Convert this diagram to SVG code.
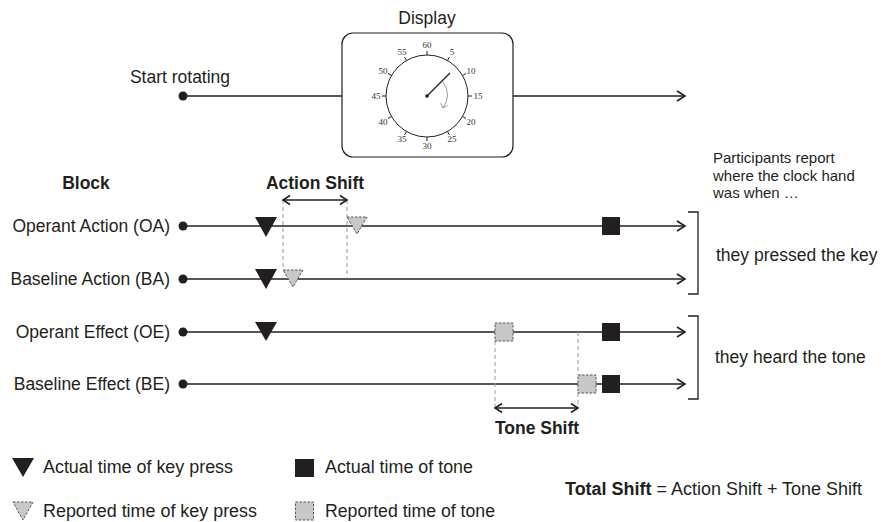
<svg xmlns="http://www.w3.org/2000/svg" width="888" height="522" viewBox="0 0 888 522">
<style>
text{font-family:"Liberation Sans",Arial,sans-serif;fill:#231f20}
.lbl{font-size:17.5px}
.b{font-weight:bold}
.num{font-family:"Liberation Serif","Times New Roman",serif;font-size:9px;text-anchor:middle;fill:#333}
.ln{stroke:#231f20;stroke-width:1.6;fill:none}
.ah{stroke:#231f20;stroke-width:1.6;fill:none;stroke-linejoin:miter}
.dash{stroke:#9a9a9a;stroke-width:1;stroke-dasharray:4 3;fill:none}
.act{fill:#231f20}
.rep{fill:#c8c8c8;stroke:#555;stroke-width:1;stroke-dasharray:2.5 1.5}
.leg{font-size:18px}
</style>
<rect width="888" height="522" fill="#fff"/>

<g id="display">
<text x="427" y="24" class="lbl" text-anchor="middle">Display</text>
<rect x="342" y="33" width="171" height="124" rx="11" fill="#fff" stroke="#231f20" stroke-width="1.2"/>
<circle cx="427" cy="96" r="41" fill="none" stroke="#231f20" stroke-width="1"/>
<g stroke="#231f20" stroke-width="1">
<line x1="427" y1="55" x2="427" y2="51"/>
<line x1="447.5" y1="60.5" x2="449.5" y2="57"/>
<line x1="462.5" y1="75.5" x2="466" y2="73.5"/>
<line x1="468" y1="96" x2="472" y2="96"/>
<line x1="462.5" y1="116.5" x2="466" y2="118.5"/>
<line x1="447.5" y1="131.5" x2="449.5" y2="135"/>
<line x1="427" y1="137" x2="427" y2="141"/>
<line x1="406.5" y1="131.5" x2="404.5" y2="135"/>
<line x1="391.5" y1="116.5" x2="388" y2="118.5"/>
<line x1="386" y1="96" x2="382" y2="96"/>
<line x1="391.5" y1="75.5" x2="388" y2="73.5"/>
<line x1="406.5" y1="60.5" x2="404.5" y2="57"/>
</g>
<text class="num" x="427" y="48">60</text>
<text class="num" x="452" y="55">5</text>
<text class="num" x="471" y="73.5">10</text>
<text class="num" x="478" y="99">15</text>
<text class="num" x="471" y="124.5">20</text>
<text class="num" x="452" y="142">25</text>
<text class="num" x="427" y="149">30</text>
<text class="num" x="402" y="142">35</text>
<text class="num" x="383" y="124.5">40</text>
<text class="num" x="376" y="99">45</text>
<text class="num" x="383" y="73.5">50</text>
<text class="num" x="402" y="55">55</text>
<line x1="427" y1="96" x2="450" y2="73" stroke="#231f20" stroke-width="1.2"/>
<circle cx="427" cy="96" r="1.8" fill="#231f20"/>
<path d="M443,82 Q452,95 443,108" fill="none" stroke="#999" stroke-width="1"/>
<path d="M440.5,103 L443,108 L447.5,105.5" fill="none" stroke="#999" stroke-width="1"/>
</g>

<g id="start">
<text x="180" y="83" class="lbl" text-anchor="middle">Start rotating</text>
<circle cx="183" cy="96" r="4.5" fill="#231f20"/>
</g>

<g id="labels">
<text x="86" y="189" class="lbl b" text-anchor="middle">Block</text>
<text x="170" y="232" class="lbl" text-anchor="end">Operant Action (OA)</text>
<text x="170" y="285" class="lbl" text-anchor="end">Baseline Action (BA)</text>
<text x="170" y="338" class="lbl" text-anchor="end">Operant Effect (OE)</text>
<text x="170" y="390" class="lbl" text-anchor="end">Baseline Effect (BE)</text>
<text x="713" y="163" font-size="15">Participants report</text>
<text x="713" y="181" font-size="15">where the clock hand</text>
<text x="713" y="198" font-size="15">was when …</text>
<text x="716" y="261" class="lbl">they pressed the key</text>
<text x="715" y="363" class="lbl">they heard the tone</text>
<text x="315" y="189" class="lbl b" text-anchor="middle">Action Shift</text>
<text x="537" y="434" class="lbl b" text-anchor="middle">Tone Shift</text>
</g>

<g id="connectors">
<line class="ln" x1="183" y1="96" x2="342" y2="96"/>
<line class="ln" x1="513" y1="96" x2="685" y2="96"/>
<path class="ah" d="M677,91 L685,96 L677,101"/>
<g id="row-oa"><circle cx="183" cy="226" r="4.5" fill="#231f20"/><line class="ln" x1="183" y1="226" x2="685" y2="226"/><path class="ah" d="M677,221 L685,226 L677,231"/></g>
<g id="row-ba"><circle cx="183" cy="279" r="4.5" fill="#231f20"/><line class="ln" x1="183" y1="279" x2="685" y2="279"/><path class="ah" d="M677,274 L685,279 L677,284"/></g>
<g id="row-oe"><circle cx="183" cy="332" r="4.5" fill="#231f20"/><line class="ln" x1="183" y1="332" x2="685" y2="332"/><path class="ah" d="M677,327 L685,332 L677,337"/></g>
<g id="row-be"><circle cx="183" cy="384" r="4.5" fill="#231f20"/><line class="ln" x1="183" y1="384" x2="685" y2="384"/><path class="ah" d="M677,379 L685,384 L677,389"/></g>
<path d="M688,212 H698 V294 H688" fill="none" stroke="#231f20" stroke-width="1.3"/>
<path d="M688,316 H698 V399 H688" fill="none" stroke="#231f20" stroke-width="1.3"/>
<line class="dash" x1="283" y1="200" x2="283" y2="270"/>
<line class="dash" x1="347" y1="200" x2="347" y2="279"/>
<line class="ln" x1="283" y1="200" x2="347" y2="200"/>
<path class="ah" d="M290,195.5 L283,200 L290,204.5 M340,195.5 L347,200 L340,204.5"/>
<line class="dash" x1="495" y1="341" x2="495" y2="408"/>
<line class="dash" x1="578" y1="332" x2="578" y2="375"/>
<line class="dash" x1="578" y1="393" x2="578" y2="408"/>
<line class="ln" x1="495" y1="408" x2="578" y2="408"/>
<path class="ah" d="M502,403.5 L495,408 L502,412.5 M571,403.5 L578,408 L571,412.5"/>
</g>

<g id="markers">
<polygon class="act" points="255,217 277,217 266,237"/>
<polygon class="act" points="255,269 277,269 266,289"/>
<polygon class="act" points="255,322 277,322 266,341"/>
<polygon class="rep" points="347,217 367,217 357,234"/>
<polygon class="rep" points="283,270 303,270 293,287"/>
<rect class="act" x="602" y="217" width="18" height="18"/>
<rect class="act" x="602" y="323" width="18" height="18"/>
<rect class="act" x="602" y="375" width="18" height="18"/>
<rect class="rep" x="495" y="323" width="18" height="18"/>
<rect class="rep" x="578" y="375" width="18" height="18"/>
</g>

<g id="legend">
<polygon class="act" points="12,458 34,458 23,477"/>
<text x="43" y="473" class="leg" textLength="190" lengthAdjust="spacingAndGlyphs">Actual time of key press</text>
<rect class="act" x="295" y="459" width="19" height="18"/>
<text x="325" y="473" class="leg" textLength="148" lengthAdjust="spacingAndGlyphs">Actual time of tone</text>
<polygon class="rep" points="13,502 33,502 23,520"/>
<text x="43" y="517" class="leg" textLength="214" lengthAdjust="spacingAndGlyphs">Reported time of key press</text>
<rect class="rep" x="295.5" y="502" width="18" height="18"/>
<text x="325" y="517" class="leg" textLength="170" lengthAdjust="spacingAndGlyphs">Reported time of tone</text>
<text x="565" y="495" class="leg" textLength="297" lengthAdjust="spacingAndGlyphs"><tspan font-weight="bold">Total Shift</tspan> = Action Shift + Tone Shift</text>
</g>
</svg>
